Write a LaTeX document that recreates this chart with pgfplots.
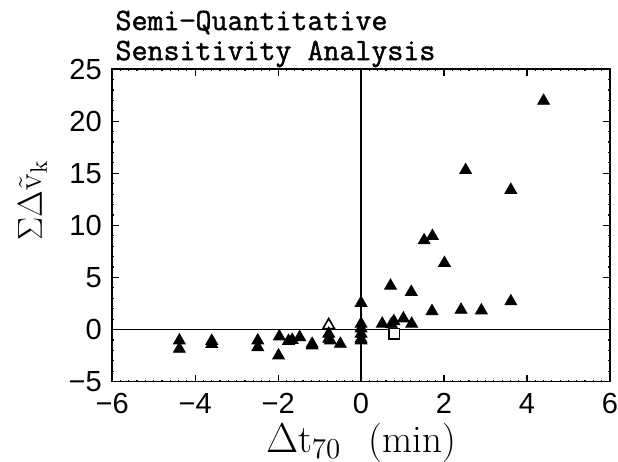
\documentclass[border=0pt]{standalone}
\usepackage{pgfplots}
\pgfplotsset{compat=1.18}
\usepackage{fontspec}
\newfontfamily\ticksf{Liberation Sans}
\newfontfamily\titlett[FakeBold=1.4]{Latin Modern Mono}

% filled triangles
\pgfplotstableread{
x y
-4.38 -1.06
-4.38 -1.86
-3.60 -1.10
-3.60 -1.40
-2.49 -1.06
-2.49 -1.70
-1.97 -0.67
-1.99 -2.50
-1.75 -1.10
-1.66 -1.00
-1.48 -0.74
-1.18 -1.54
-1.18 -1.38
-0.78 -0.40
-0.78 -0.90
-0.74 -1.06
-0.50 -1.38
0.00 2.55
0.00 0.55
0.00 0.10
0.00 -0.40
0.00 -0.90
0.00 -1.06
0.51 0.55
0.73 0.50
0.79 0.80
1.02 1.06
1.22 0.55
0.71 4.20
1.21 3.60
3.61 2.70
1.71 1.76
2.41 1.89
2.90 1.83
2.01 6.38
1.52 8.56
1.72 8.97
3.61 13.40
2.52 15.30
4.40 21.95
}\filledtri

\begin{document}
\begin{tikzpicture}
\begin{axis}[
    scale only axis,
    width=248.5pt, height=156pt,
    xmin=-6, xmax=6, ymin=-5, ymax=25,
    axis line style={line width=0.8pt},
    xtick={-6,-4,...,6},
    xticklabels={−6,−4,−2,0,2,4,6},
    ytick={-5,0,...,25},
    yticklabels={−5,0,5,10,15,20,25},
    minor x tick num=9,
    minor y tick num=4,
    tick align=inside,
    major tick length=3.5pt,
    minor tick length=1pt,
    tick style={line width=0.6pt, black},
    ticklabel style={font=\ticksf\fontsize{14.5}{16}\selectfont, inner sep=0pt},
    xticklabel style={anchor=base, yshift=-16pt},
    yticklabel style={anchor=east, xshift=-5pt},
    xlabel={$\Delta$t$_{70}$\hspace{0.7em}(min)},
    xlabel style={font=\fontsize{19.5}{22}\selectfont, at={(axis description cs:0.5,0)}, anchor=base, yshift=-35.5pt},
    ylabel={$\Sigma\Delta\tilde{\mathrm{v}}_{\mathrm{k}}$},
    ylabel style={font=\fontsize{17}{19}\selectfont, at={(axis description cs:-0.16,0.58)}, anchor=center},
    clip=false,
]
\addplot[black, line width=0.6pt] coordinates {(0,-5) (0,25)};
\addplot[black, line width=0.6pt] coordinates {(-6,0) (6,0)};
\addplot[only marks, mark=triangle*, mark size=3.4pt, mark options={fill=white, draw=black, line width=0.8pt}] coordinates {(-0.78,0.40)};
\addplot[only marks, mark=square*, mark size=2.6pt, mark options={fill=white, draw=black, line width=0.8pt}] coordinates {(0.80,-0.40)};
\addplot[only marks, mark=triangle*, mark size=3.4pt, mark options={fill=black, draw=black}] table {\filledtri};
\end{axis}
\node[anchor=base west, font=\titlett\fontsize{15.5}{18}\selectfont, inner sep=0pt] at (1.5pt,175.5pt) {Semi−Quantitative};
\node[anchor=base west, font=\titlett\fontsize{15.5}{18}\selectfont, inner sep=0pt] at (1.5pt,160.5pt) {Sensitivity Analysis};
\pgfresetboundingbox
\useasboundingbox (-56pt,-40pt) rectangle (252.5pt,190.5pt);
\end{tikzpicture}
\end{document}
